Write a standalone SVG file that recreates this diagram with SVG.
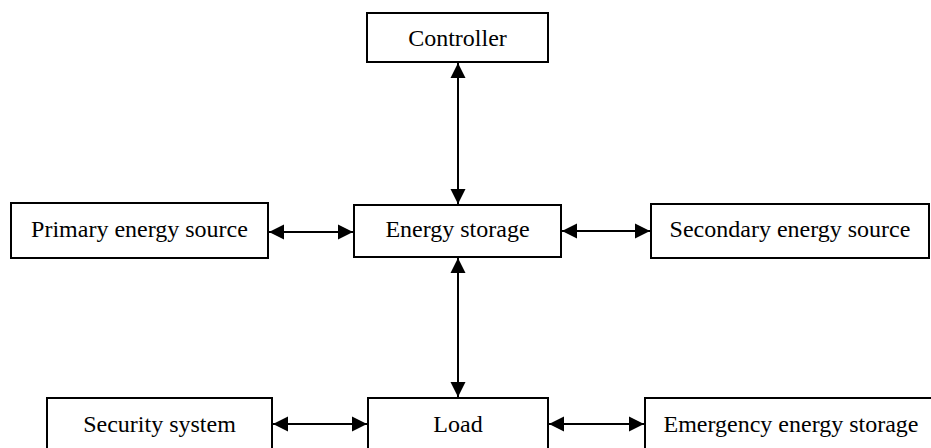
<svg xmlns="http://www.w3.org/2000/svg" width="931" height="448" viewBox="0 0 931 448">
<style>
.box{fill:#fff;stroke:#000;stroke-width:2}
.lbl{font-family:"Liberation Serif","Times New Roman",serif;font-size:24px;fill:#000;text-anchor:middle}
.con{stroke:#000;stroke-width:2;fill:none;marker-start:url(#ah);marker-end:url(#ah)}
</style>
<defs>
<marker id="ah" markerUnits="userSpaceOnUse" markerWidth="16" markerHeight="16" refX="15" refY="8" orient="auto-start-reverse" viewBox="0 0 16 16">
<path d="M0,0.5 L15,8 L0,15.5 Z" fill="#000"/>
</marker>
</defs>
<rect width="931" height="448" fill="#fff"/>
<g id="controller"><rect class="box" x="367" y="13" width="181" height="49"/><text class="lbl" x="457.5" y="46">Controller</text></g>
<g id="primary"><rect class="box" x="11" y="203" width="257" height="55"/><text class="lbl" x="139.5" y="237">Primary energy source</text></g>
<g id="storage"><rect class="box" x="354" y="205" width="207" height="52"/><text class="lbl" x="457.5" y="237">Energy storage</text></g>
<g id="secondary"><rect class="box" x="651" y="204" width="278" height="54"/><text class="lbl" x="790" y="237">Secondary energy source</text></g>
<g id="security"><rect class="box" x="47" y="398" width="225" height="70"/><text class="lbl" x="159.5" y="432">Security system</text></g>
<g id="load"><rect class="box" x="368" y="398" width="180" height="70"/><text class="lbl" x="458" y="432">Load</text></g>
<g id="emergency"><rect class="box" x="645" y="398" width="300" height="70"/><text class="lbl" x="791" y="432">Emergency energy storage</text></g>
<g id="connectors">
<line class="con" x1="458" y1="63" x2="458" y2="204"/>
<line class="con" x1="458" y1="258" x2="458" y2="397"/>
<line class="con" x1="269" y1="232" x2="353" y2="232"/>
<line class="con" x1="562" y1="231" x2="650" y2="231"/>
<line class="con" x1="273" y1="424" x2="367" y2="424"/>
<line class="con" x1="549" y1="424" x2="644" y2="424"/>
</g>
</svg>
